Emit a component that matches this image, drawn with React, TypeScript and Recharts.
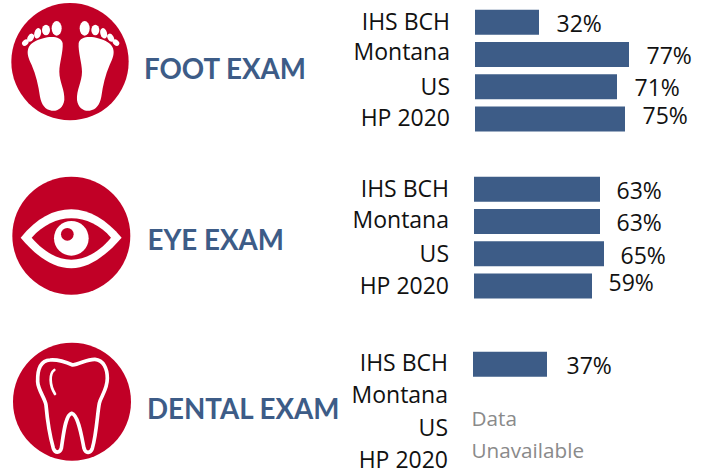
import React from "react";
import { BarChart, Bar, XAxis, YAxis, LabelList } from "recharts";

const categories = ["IHS BCH", "Montana", "US", "HP 2020"];
const footValues = [32, 77, 71, 75];
const eyeValues = [63, 63, 65, 59];
const dentalValues = [37, null, null, null];

const BLUE = "#3d5c87";
const RED = "#c10026";
const FONT = "'Open Sans', sans-serif";
const HEAD_FONT = "Lato, sans-serif";

const toRows = (values: (number | null)[]) =>
  categories.map((name, i) => ({ name, value: values[i] }));

function ExamBars({ values, left, top, labelGap, labelShift, tickShift }: any) {
  const axisWidth = 130;
  const pad = 5;
  return (
    <div style={{ position: "absolute", left: left - axisWidth, top: top - pad }}>
      <BarChart
        width={axisWidth + 250}
        height={129 + pad * 2}
        layout="vertical"
        data={toRows(values)}
        barCategoryGap={3.75}
        margin={{ top: pad, right: 0, bottom: pad, left: 0 }}
      >
        <XAxis type="number" domain={[0, 125]} hide />
        <YAxis
          type="category"
          dataKey="name"
          width={axisWidth}
          axisLine={false}
          tickLine={false}
          tickSize={0}
          tickMargin={25}
          interval={0}
          tick={(p: any) => (
            <text
              x={p.x}
              y={p.y + tickShift[p.index]}
              dy="0.35em"
              textAnchor="end"
              fill="#111"
              fontSize={23}
              fontFamily={FONT}
            >
              {p.payload.value}
            </text>
          )}
        />
        <Bar dataKey="value" fill={BLUE} isAnimationActive={false}>
          <LabelList
            dataKey="value"
            content={(p: any) =>
              p.value == null ? null : (
                <text
                  x={p.x + p.width + labelGap}
                  y={p.y + p.height / 2 + labelShift[p.index]}
                  dy="0.35em"
                  fill="#111"
                  fontSize={23}
                  fontFamily={FONT}
                >
                  {p.value}%
                </text>
              )
            }
          />
        </Bar>
      </BarChart>
    </div>
  );
}

function Foot() {
  const sole =
    "M130,115 C150,108 185,108 188,130 C190,155 178,190 178,215 C178,245 195,270 193,300 C190,325 170,335 155,332 C135,328 125,315 120,290 C115,255 108,225 95,195 C85,175 80,160 85,145 C90,130 110,120 130,115 Z";
  const half = (
    <g fill="#fff">
      <path d={sole} />
      <ellipse cx={170} cy={85} rx={15} ry={22} />
      <ellipse cx={138} cy={90} rx={12} ry={16} />
      <ellipse cx={113} cy={100} rx={10} ry={16} transform="rotate(15 113 100)" />
      <ellipse cx={92} cy={113} rx={9} ry={13} transform="rotate(30 92 113)" />
      <ellipse cx={76} cy={128} rx={8} ry={11} transform="rotate(50 76 128)" />
    </g>
  );
  return (
    <g transform="scale(0.3333)">
      <circle cx={210} cy={185} r={176} fill={RED} />
      {half}
      <g transform="translate(424,0) scale(-1,1)">{half}</g>
    </g>
  );
}

function Eye() {
  return (
    <g transform="translate(0,165) scale(0.3333)">
      <circle cx={214} cy={212} r={177} fill={RED} />
      <path
        d="M62,218 C110,160 160,133 214,133 C268,133 320,165 365,218 C320,270 268,310 214,310 C160,310 110,275 62,218 Z"
        fill="#fff"
      />
      <path
        d="M95,218 C130,180 170,160 214,160 C258,160 300,180 333,218 C300,258 258,284 214,284 C170,284 130,258 95,218 Z"
        fill={RED}
      />
      <circle cx={214} cy={220} r={52} fill="#fff" />
      <circle cx={202} cy={208} r={19} fill={RED} />
    </g>
  );
}

function Tooth() {
  return (
    <g transform="translate(0,320) scale(0.3333)">
      <circle cx={216} cy={245} r={177} fill={RED} />
      <g fill="none" stroke="#fff" strokeLinecap="round" strokeLinejoin="round">
        <path
          strokeWidth={11}
          d="M218,135 C195,125 170,118 150,120 C120,122 112,150 113,185 C114,210 135,235 138,255 C142,300 150,350 160,385 C165,400 180,400 184,385 C190,350 195,285 215,280 C235,285 245,350 252,385 C257,402 272,400 277,385 C290,340 292,280 298,250 C302,230 322,210 322,175 C322,145 310,120 285,118 C262,117 240,132 218,135 Z"
        />
        <path strokeWidth={8} d="M163,150 C148,160 148,195 165,222" />
      </g>
    </g>
  );
}

export default function App() {
  const heading = { fill: BLUE, fontSize: 27.7, fontWeight: 700, fontFamily: HEAD_FONT };
  const note = { fill: "#8a8a8a", fontSize: 20.7, fontFamily: FONT };
  return (
    <div style={{ position: "absolute", left: 0, top: 0, width: 704, height: 474, background: "#fff", overflow: "hidden" }}>
      <svg width={704} height={474} style={{ position: "absolute", left: 0, top: 0 }}>
        <Foot />
        <Eye />
        <Tooth />
        <text x={144} y={79} {...heading}>FOOT EXAM</text>
        <text x={147.5} y={249.5} {...heading}>EYE EXAM</text>
        <text x={147} y={419} {...heading}>DENTAL EXAM</text>
        <text x={471.5} y={426} {...note}>Data</text>
        <text x={471.5} y={458} {...note}>Unavailable</text>
      </svg>
      <ExamBars values={footValues} left={475} top={5.6} labelGap={17.5} labelShift={[1.3, 1.5, 1.5, -3]} tickShift={[-0.5, -2, 0.5, -1]} />
      <ExamBars values={eyeValues} left={474.3} top={173.2} labelGap={16.5} labelShift={[1.4, 1.5, 2.2, -3]} tickShift={[-0.5, -1, 0, 0]} />
      <ExamBars values={dentalValues} left={473} top={348.4} labelGap={19.5} labelShift={[1.2, 0, 0, 0]} tickShift={[-1, -1, -1, -1]} />
    </div>
  );
}
